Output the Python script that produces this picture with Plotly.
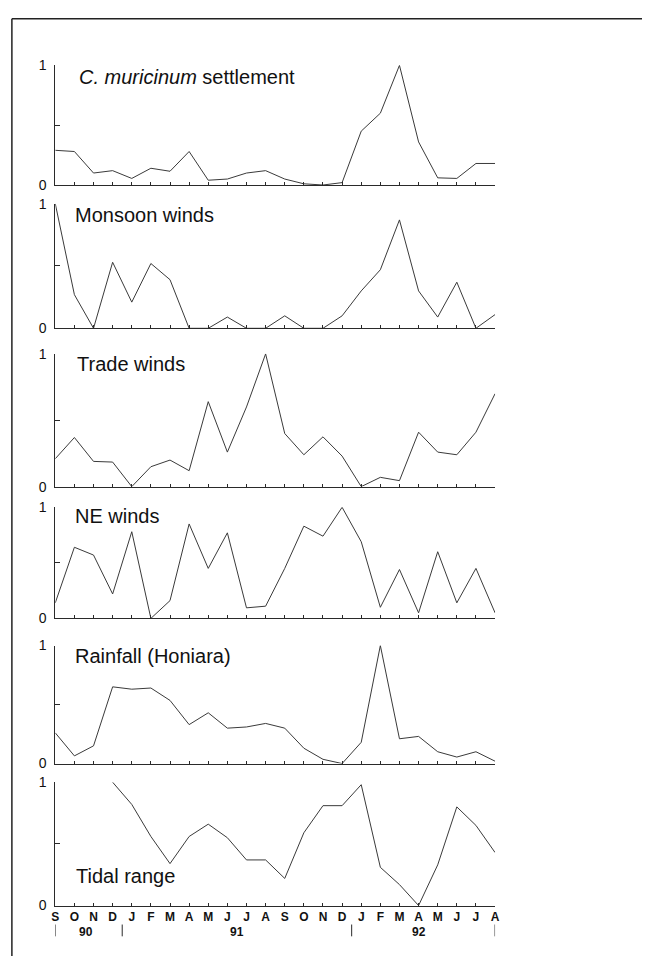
import plotly.graph_objects as go

months = ["S", "O", "N", "D", "J", "F", "M", "A", "M", "J", "J", "A",
          "S", "O", "N", "D", "J", "F", "M", "A", "M", "J", "J", "A"]
years = ["90", "91", "92"]

settlement = [0.29, 0.28, 0.10, 0.12, 0.055, 0.14, 0.115, 0.28, 0.04, 0.05, 0.10, 0.12,
              0.05, 0.01, 0.0, 0.02, 0.45, 0.60, 1.0, 0.36, 0.06, 0.055, 0.18, 0.18]
monsoon = [1.0, 0.27, 0.0, 0.53, 0.21, 0.52, 0.39, 0.0, 0.0, 0.09, 0.0, 0.0,
           0.10, 0.0, 0.0, 0.10, 0.30, 0.47, 0.87, 0.30, 0.09, 0.37, 0.0, 0.11]
trade = [0.21, 0.37, 0.19, 0.185, 0.0, 0.15, 0.20, 0.12, 0.64, 0.26, 0.60, 1.0,
         0.40, 0.24, 0.375, 0.23, 0.0, 0.07, 0.045, 0.41, 0.26, 0.24, 0.41, 0.70]
ne_winds = [0.14, 0.64, 0.57, 0.22, 0.78, 0.0, 0.16, 0.85, 0.45, 0.77, 0.095, 0.11,
            0.45, 0.83, 0.74, 1.0, 0.69, 0.10, 0.44, 0.05, 0.60, 0.14, 0.45, 0.05]
rainfall = [0.26, 0.065, 0.15, 0.65, 0.63, 0.64, 0.535, 0.33, 0.43, 0.30, 0.31, 0.34,
            0.30, 0.13, 0.036, 0.0, 0.18, 1.0, 0.21, 0.23, 0.10, 0.055, 0.10, 0.02]
tidal = [None, None, None, 1.0, 0.82, 0.56, 0.34, 0.56, 0.66, 0.55, 0.37, 0.37,
         0.22, 0.59, 0.81, 0.81, 0.98, 0.31, 0.17, 0.0, 0.33, 0.80, 0.65, 0.43]

titles = ["<i>C. muricinum</i> settlement", "Monsoon winds", "Trade winds",
          "NE winds", "Rainfall (Honiara)", "Tidal range"]
series = [settlement, monsoon, trade, ne_winds, rainfall, tidal]

# layout geometry (pixels)
W, H = 647, 964
X0, X1 = 52, 498
panel_px = [(58.3, 180.0), (199.0, 325.7), (351.7, 486.7),
            (507.7, 620.7), (648.3, 768.3), (787.3, 912.7)]
title_pos = [(74, 70), (70, 210), (72, 362), (70, 517), (70, 659), (71, 883)]

FONT = "Liberation Sans, Arial, Helvetica, sans-serif"
INK = "#2a2a2a"

def py(p):
    return 1 - p / H

def px(p):
    return p / W

fig = go.Figure()
xs = list(range(len(months)))
layout = dict(
    width=W, height=H,
    margin=dict(l=0, r=0, t=0, b=0),
    paper_bgcolor="white", plot_bgcolor="white",
    showlegend=False,
    font=dict(family=FONT, color="#111"),
)
annotations = []
shapes = []
n = len(series)
for i, (vals, (top, bot)) in enumerate(zip(series, panel_px)):
    k = "" if i == 0 else str(i + 1)
    fig.add_trace(go.Scatter(
        x=xs, y=vals, mode="lines",
        line=dict(color="#3a3a3a", width=1),
        xaxis="x" + k, yaxis="y" + k,
        connectgaps=False, hoverinfo="skip",
    ))
    last = (i == n - 1)
    layout["xaxis" + k] = dict(
        domain=[px(X0), px(X1)], range=[0, len(months) - 1],
        anchor="y" + k,
        showline=True, linecolor=INK, linewidth=1,
        ticks="inside", ticklen=3, tickcolor=INK, tickwidth=1,
        tickvals=xs, ticktext=months if last else [""] * len(months),
        showticklabels=last,
        tickfont=dict(family=FONT, size=12, color="#111", weight="bold"),
        showgrid=False, zeroline=False,
    )
    layout["yaxis" + k] = dict(
        domain=[py(bot), py(top)], range=[0, 1],
        anchor="x" + k,
        showline=True, linecolor=INK, linewidth=1,
        ticks="inside", ticklen=5, tickcolor=INK, tickwidth=1,
        tickvals=[0, 0.5, 1], ticktext=["0", "", "1"],
        tickfont=dict(family=FONT, size=14, color="#111"),
        ticklabelstandoff=5,
        showgrid=False, zeroline=False,
    )
    tx, ty = title_pos[i]
    annotations.append(dict(
        text=titles[i], x=px(tx), y=py(ty), xref="paper", yref="paper",
        xanchor="left", yanchor="middle", showarrow=False,
        font=dict(family=FONT, size=20, color="#111"),
    ))

# year labels and separators under bottom axis
year_centers = [1.6, 9.5, 19.0]
for yl, xc in zip(years, year_centers):
    annotations.append(dict(
        text=yl, x=xc, y=py(940), xref="x6", yref="paper",
        xanchor="center", yanchor="middle", showarrow=False,
        font=dict(family=FONT, size=12, color="#111", weight="bold"),
    ))
for xb in [0, 3.5, 15.5, 23]:
    shapes.append(dict(type="line", xref="x6", yref="paper",
                       x0=xb, x1=xb, y0=py(932), y1=py(944),
                       line=dict(color=INK, width=1)))

# page frame (left and top border)
shapes.append(dict(type="line", xref="paper", yref="paper",
                   x0=px(8), x1=px(8), y0=py(11), y1=0,
                   line=dict(color="#222", width=1.5)))
shapes.append(dict(type="line", xref="paper", yref="paper",
                   x0=px(8), x1=1, y0=py(11), y1=py(11),
                   line=dict(color="#222", width=1.5)))

layout["annotations"] = annotations
layout["shapes"] = shapes
fig.update_layout(**layout)
fig.write_html(
    "out.html",
    config={"displayModeBar": False, "staticPlot": True},
    post_script="document.body.style.margin='0';document.body.style.overflow='hidden';",
)
